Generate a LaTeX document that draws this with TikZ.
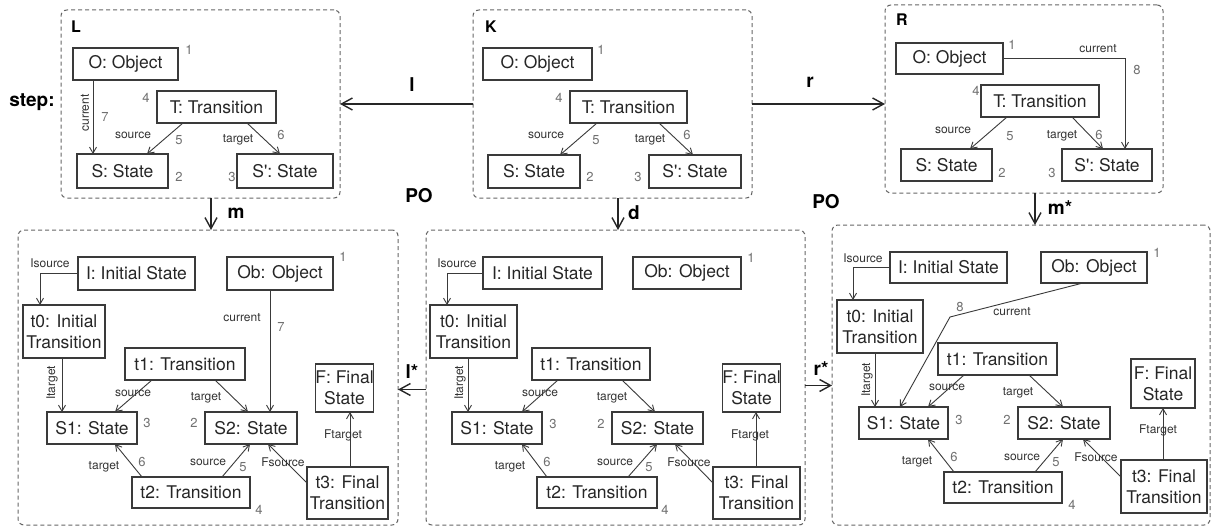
\documentclass[tikz,border=0pt]{standalone}
\usepackage{fontspec}
\setmainfont{TeX Gyre Heros}
\usetikzlibrary{arrows.meta,calc}
\definecolor{boxc}{HTML}{3A3A3A}
\definecolor{framec}{HTML}{666666}
\definecolor{numc}{HTML}{707070}
\newcounter{lc}
\newcommand\lb[3]{\stepcounter{lc}\node[#1] (lb\arabic{lc}) at (#2) {#3};}
\newcommand\bx[6]{\node[box,minimum width={(#4-#2)*1pt},minimum height={(#5-#3)*1pt}] (#1) at ({(#2+#4)/2},{(#3+#5)/2}) {#6};}
\newcommand\fr[5]{\node[dframe,minimum width={(#4-#2)*1pt},minimum height={(#5-#3)*1pt}] (#1) at ({(#2+#4)/2},{(#3+#5)/2}) {};}
\begin{document}
\begin{tikzpicture}[x=1pt,y=-1pt,
  box/.style={draw=boxc,line width=1.2pt,inner sep=0pt,outer sep=0pt,align=center,
    font=\fontsize{17.5}{21}\selectfont,text=black!85},
  dframe/.style={draw=framec,line width=1pt,dash pattern=on 4pt off 3pt,rounded corners=6pt,inner sep=0pt,outer sep=0pt},
  conn/.style={draw=boxc,line width=0.9pt,-{Straight Barb[length=6pt,width=7pt]}},
  morph/.style={draw=black!85,line width=1.4pt,-{Straight Barb[length=11pt,width=12pt]}},
  elab/.style={font=\fontsize{12}{14}\selectfont,text=black!80,inner sep=0pt},
  numl/.style={font=\fontsize{13}{15}\selectfont,text=numc,inner sep=0pt},
  bigl/.style={font=\bfseries\fontsize{19}{22}\selectfont,inner sep=0pt},
  framel/.style={font=\bfseries\fontsize{16}{18}\selectfont,inner sep=0pt}]
\fill[white] (0,0) rectangle (1213,532);
\useasboundingbox (0,0) rectangle (1213,532);

% ---------- L ----------
\fr{Lf}{61}{10}{340}{198}
\bx{LO}{73}{48}{178}{80}{O: Object}
\bx{LT}{157}{91}{276}{123}{T: Transition}
\bx{LS}{77}{154}{168}{188}{S: State}
\bx{LSp}{237}{154}{333}{188}{S\textquotesingle: State}
\coordinate (c1) at ([xshift=20pt]LO.south west);
\draw[conn] (c1) -- (c1 |- LS.north);
\draw[conn] ([xshift=26pt]LT.south west) -- ([xshift=70pt]LS.north west);
\draw[conn] ([xshift=90pt]LT.south west) -- ([xshift=43pt]LSp.north west);
\lb{framel}{76,27}{L}
\lb{bigl}{32,102}{step:}
\lb{elab,rotate=90}{85,113}{current}
\lb{numl}{105,117}{7}
\lb{elab}{133,135}{source}
\lb{numl}{179,140}{5}
\lb{elab}{238,140}{target}
\lb{numl}{281,135}{6}
\lb{numl}{189,50}{1}
\lb{numl}{146,98}{4}
\lb{numl}{179,177}{2}
\lb{numl}{232,177}{3}

% ---------- K ----------
\fr{Kf}{473}{10}{752}{198}
\bx{KO}{483}{48}{592}{80}{O: Object}
\bx{KT}{570}{91}{687}{123}{T: Transition}
\bx{KS}{488}{155}{580}{188}{S: State}
\bx{KSp}{649}{155}{741}{188}{S\textquotesingle: State}
\draw[conn] ([xshift=27pt]KT.south west) -- ([xshift=72pt]KS.north west);
\draw[conn] ([xshift=89pt]KT.south west) -- ([xshift=44pt]KSp.north west);
\lb{framel}{491,27}{K}
\lb{numl}{601,50}{1}
\lb{numl}{559,98}{4}
\lb{numl}{590,177}{2}
\lb{numl}{638,177}{3}
\lb{elab}{546,135}{source}
\lb{numl}{596,140}{5}
\lb{elab}{650,140}{target}
\lb{numl}{687,135}{6}

% ---------- R ----------
\fr{Rf}{885}{5}{1163}{193}
\bx{RO}{896}{43}{1003}{74}{O: Object}
\bx{RT}{981}{85}{1099}{117}{T: Transition}
\bx{RS}{901}{149}{992}{181}{S: State}
\bx{RSp}{1062}{149}{1152}{181}{S\textquotesingle: State}
\draw[conn] ([xshift=26pt]RT.south west) -- ([xshift=69pt]RS.north west);
\draw[conn] ([xshift=91pt]RT.south west) -- ([xshift=41pt]RSp.north west);
\coordinate (rc) at ([xshift=63pt]RSp.north west);
\draw[conn] (RO.east) -| (rc);
\lb{framel}{902,20}{R}
\lb{numl}{1012,45}{1}
\lb{numl}{976,91}{4}
\lb{numl}{1002,173}{2}
\lb{numl}{1052,173}{3}
\lb{elab}{953,130}{source}
\lb{numl}{1010,136}{5}
\lb{elab}{1062,136}{target}
\lb{numl}{1099,135}{6}
\lb{elab}{1098,49}{current}
\lb{numl}{1137,70}{8}

% ---------- bottom left ----------
\fr{Bl}{18}{230}{398}{525}
\bx{blI}{78}{257}{195}{290}{I: Initial State}
\bx{blt0}{23}{305}{105}{358}{t0: Initial\\Transition}
\bx{blOb}{227}{257}{333}{290}{Ob: Object}
\bx{blt1}{125}{348}{245}{380}{t1: Transition}
\bx{blS1}{47}{412}{137}{444}{S1: State}
\bx{blS2}{205}{412}{297}{444}{S2: State}
\bx{blF}{316}{364}{373}{412}{F: Final\\State}
\bx{blt3}{307}{467}{388}{519}{t3: Final\\Transition}
\bx{blt2}{132}{477}{250}{508}{t2: Transition}
\draw[conn] (blI.west) -| ([xshift=17pt]blt0.north west);
\coordinate (b2) at ([xshift=39pt]blt0.south west);
\draw[conn] (b2) -- (b2 |- blS1.north);
\coordinate (b1) at ([xshift=43pt]blOb.south west);
\draw[conn] (b1) -- (b1 |- blS2.north);
\draw[conn] ([xshift=27pt]blt1.south west) -- ([xshift=68pt]blS1.north west);
\draw[conn] ([xshift=90pt]blt1.south west) -- ([xshift=43pt]blS2.north west);
\coordinate (b3) at ([xshift=43pt]blt3.north west);
\draw[conn] (b3) -- (b3 |- blF.south);
\draw[conn] ([xshift=10pt]blt2.north west) -- ([xshift=68pt]blS1.south west);
\draw[conn] ([xshift=90pt]blt2.north west) -- ([xshift=45pt]blS2.south west);
\draw[conn] ([yshift=-16pt]blt3.north west) -- ([xshift=63pt]blS2.south west);
\lb{elab}{50,263}{Isource}
\lb{elab,rotate=90}{52,383}{Itarget}
\lb{elab}{242,318}{current}
\lb{numl}{281,327}{7}
\lb{elab}{133,393}{source}
\lb{elab}{206,398}{target}
\lb{elab}{343,435}{Ftarget}
\lb{elab}{104,467}{target}
\lb{numl}{142,462}{6}
\lb{elab}{208,462}{source}
\lb{numl}{243,467}{5}
\lb{elab}{283,462}{Fsource}
\lb{numl}{343,257}{1}
\lb{numl}{147,423}{3}
\lb{numl}{194,423}{2}
\lb{numl}{259,510}{4}

% ---------- bottom middle ----------
\fr{Bm}{426}{230}{805}{525}
\bx{bmI}{483}{257}{602}{289}{I: Initial State}
\bx{bmt0}{430}{305}{517}{358}{t0: Initial\\Transition}
\bx{bmOb}{633}{257}{741}{289}{Ob: Object}
\bx{bmt1}{532}{348}{650}{380}{t1: Transition}
\bx{bmS1}{452}{412}{542}{444}{S1: State}
\bx{bmS2}{612}{412}{703}{444}{S2: State}
\bx{bmF}{723}{364}{780}{412}{F: Final\\State}
\bx{bmt3}{713}{467}{800}{519}{t3: Final\\Transition}
\bx{bmt2}{537}{477}{657}{508}{t2: Transition}
\draw[conn] (bmI.west) -| ([xshift=17pt]bmt0.north west);
\coordinate (m2) at ([xshift=38pt]bmt0.south west);
\draw[conn] (m2) -- (m2 |- bmS1.north);
\draw[conn] ([xshift=26pt]bmt1.south west) -- ([xshift=70pt]bmS1.north west);
\draw[conn] ([xshift=90pt]bmt1.south west) -- ([xshift=43pt]bmS2.north west);
\coordinate (m3) at ([xshift=43pt]bmt3.north west);
\draw[conn] (m3) -- (m3 |- bmF.south);
\draw[conn] ([xshift=10pt]bmt2.north west) -- ([xshift=70pt]bmS1.south west);
\draw[conn] ([xshift=91pt]bmt2.north west) -- ([xshift=45pt]bmS2.south west);
\draw[conn] ([yshift=-16pt]bmt3.north west) -- ([xshift=63pt]bmS2.south west);
\lb{elab}{457,263}{Isource}
\lb{elab,rotate=90}{460,383}{Itarget}
\lb{elab}{540,393}{source}
\lb{elab}{612,398}{target}
\lb{elab}{750,435}{Ftarget}
\lb{elab}{510,467}{target}
\lb{numl}{547,462}{6}
\lb{elab}{615,462}{source}
\lb{numl}{649,467}{5}
\lb{elab}{689,462}{Fsource}
\lb{numl}{751,258}{1}
\lb{numl}{553,424}{3}
\lb{numl}{601,424}{2}
\lb{numl}{665,510}{4}

% ---------- bottom right ----------
\fr{Br}{832}{225}{1210}{525}
\bx{brI}{890}{252}{1007}{283}{I: Initial State}
\bx{brt0}{837}{300}{923}{353}{t0: Initial\\Transition}
\bx{brOb}{1041}{252}{1147}{283}{Ob: Object}
\bx{brt1}{938}{343}{1057}{375}{t1: Transition}
\bx{brS1}{859}{407}{948}{439}{S1: State}
\bx{brS2}{1018}{407}{1110}{439}{S2: State}
\bx{brF}{1131}{359}{1195}{408}{F: Final\\State}
\bx{brt3}{1121}{460}{1207}{513}{t3: Final\\Transition}
\bx{brt2}{944}{472}{1062}{503}{t2: Transition}
\draw[conn] (brI.west) -| ([xshift=16pt]brt0.north west);
\coordinate (r2) at ([xshift=38pt]brt0.south west);
\draw[conn] (r2) -- (r2 |- brS1.north);
\coordinate (rb) at (950,317);
\draw[conn] ([xshift=42pt]brOb.south west) -- (rb) -- ([xshift=41pt]brS1.north west);
\draw[conn] ([xshift=26pt]brt1.south west) -- ([xshift=69pt]brS1.north west);
\draw[conn] ([xshift=91pt]brt1.south west) -- ([xshift=45pt]brS2.north west);
\coordinate (r3) at ([xshift=42pt]brt3.north west);
\draw[conn] (r3) -- (r3 |- brF.south);
\draw[conn] ([xshift=10pt]brt2.north west) -- ([xshift=69pt]brS1.south west);
\draw[conn] ([xshift=91pt]brt2.north west) -- ([xshift=45pt]brS2.south west);
\draw[conn] ([yshift=-17pt]brt3.north west) -- ([xshift=65pt]brS2.south west);
\lb{elab}{863,258}{Isource}
\lb{elab,rotate=90}{867,380}{Itarget}
\lb{numl}{960,307}{8}
\lb{elab}{1012,312}{current}
\lb{elab}{947,387}{source}
\lb{elab}{1018,393}{target}
\lb{elab}{1158,430}{Ftarget}
\lb{elab}{917,462}{target}
\lb{numl}{954,457}{6}
\lb{elab}{1022,457}{source}
\lb{numl}{1056,462}{5}
\lb{elab}{1096,457}{Fsource}
\lb{numl}{1157,253}{1}
\lb{numl}{959,420}{3}
\lb{numl}{1007,420}{2}
\lb{numl}{1072,505}{4}

% ---------- morphisms ----------
\draw[morph] (Kf.west) -- (Lf.east);
\draw[morph] (Kf.east) -- (Kf.east -| Rf.west);
\coordinate (mm) at ([xshift=150pt]Lf.south west);
\draw[morph] (mm) -- (mm |- Bl.north);
\coordinate (dd) at ([xshift=145pt]Kf.south west);
\draw[morph] (dd) -- (dd |- Bm.north);
\coordinate (ms) at ([xshift=150pt]Rf.south west);
\draw[morph] (ms) -- (ms |- Br.north);
\coordinate (ls) at ([yshift=-12pt]Bm.west);
\draw[morph] (ls) -- (ls -| Bl.east);
\coordinate (rs) at ([yshift=-8pt]Bm.east);
\draw[morph] (rs) -- (rs -| Br.west);
\lb{bigl}{412,85}{l}
\lb{bigl}{810,82}{r}
\lb{bigl}{236,213}{m}
\lb{bigl}{634,213}{d}
\lb{bigl}{1060,208}{m*}
\lb{bigl}{419,196}{PO}
\lb{bigl}{826,202}{PO}
\lb{bigl}{412,372}{l*}
\lb{bigl}{821,369}{r*}
\end{tikzpicture}
\end{document}
